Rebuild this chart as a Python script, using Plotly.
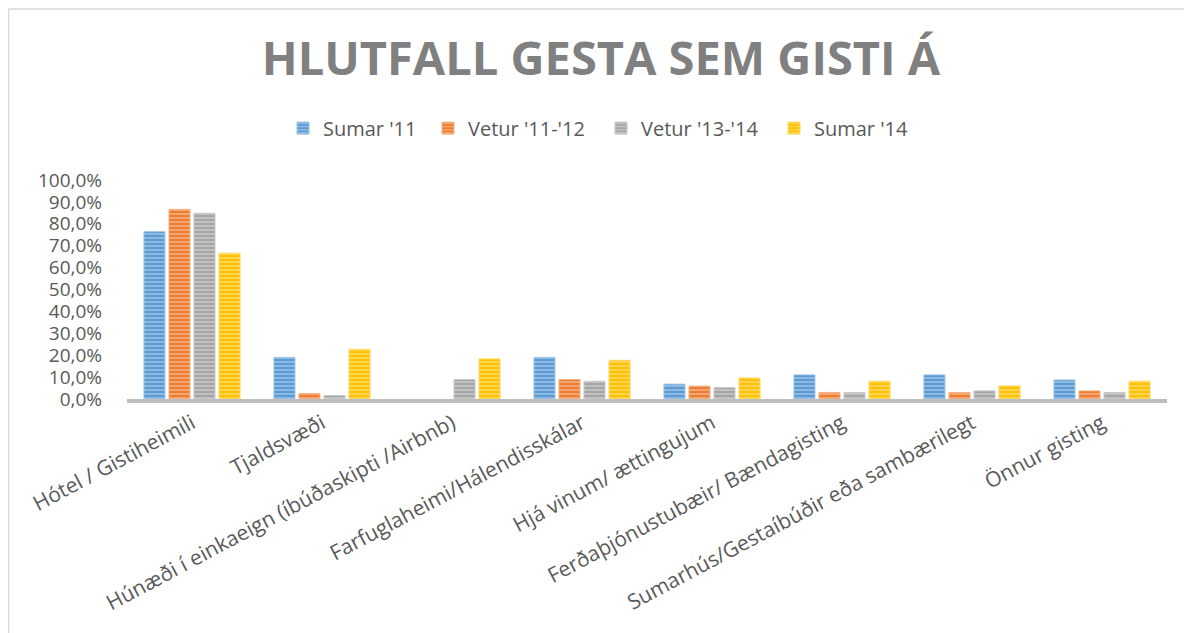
import plotly.graph_objects as go

categories = [
    "Hótel / Gistiheimili",
    "Tjaldsvæði",
    "Húnæði í einkaeign (íbúðaskipti /Airbnb)",
    "Farfuglaheimi/Hálendisskálar",
    "Hjá vinum/ ættingujum",
    "Ferðaþjónustubæir/ Bændagisting",
    "Sumarhús/Gestaíbúðir eða sambærilegt",
    "Önnur gisting",
]
series_names = ["Sumar '11", "Vetur '11-'12", "Vetur '13-'14", "Sumar '14"]
sumar_11 = [76.4, 19.0, 0.0, 19.0, 6.8, 11.0, 11.0, 8.7]
vetur_11_12 = [86.6, 2.5, 0.0, 8.9, 5.9, 3.0, 3.0, 3.7]
vetur_13_14 = [84.8, 1.6, 8.9, 8.1, 5.2, 3.0, 3.7, 3.0]
sumar_14 = [66.6, 22.7, 18.3, 17.7, 9.6, 8.1, 6.0, 8.1]
series_values = [sumar_11, vetur_11_12, vetur_13_14, sumar_14]
tick_values = [0, 10, 20, 30, 40, 50, 60, 70, 80, 90, 100]
tick_labels = ["0,0%", "10,0%", "20,0%", "30,0%", "40,0%", "50,0%",
               "60,0%", "70,0%", "80,0%", "90,0%", "100,0%"]

colors = ["#5b9bd5", "#ed7d31", "#a5a5a5", "#ffc000"]
edge_colors = ["#9cc3e6", "#f4b183", "#c9c9c9", "#ffd966"]
legend_left_px = [283, 428, 601, 774]

# page has an 8px body margin; figure coords = page coords - 8
OFF = 8
W, H = 1192 - OFF, 633 - OFF
L = 127 - OFF
T = 180 - OFF
R = W - (1167 - OFF)
B = H - (399.5 - OFF)

pw = W - L - R
ph = H - T - B


def px_x(p):
    return (p - OFF - L) / pw


def px_y(p):
    return (H - B - (p - OFF)) / ph


legend_ids = ["legend", "legend2", "legend3", "legend4"]

fig = go.Figure()
for name, vals, c, ec, lid in zip(series_names, series_values, colors, edge_colors, legend_ids):
    fig.add_trace(go.Bar(
        name=name, x=categories, y=vals, legend=lid,
        marker=dict(
            color=c,
            line=dict(color=ec, width=[0 if v == 0 else 1 for v in vals]),
            pattern=dict(shape="-", fillmode="overlay", fgcolor="white",
                         fgopacity=0.45, size=4, solidity=0.35),
        ),
    ))

border = "#d9d9d9"
shapes = [
    dict(type="line", xref="paper", yref="paper", x0=px_x(8.5), x1=px_x(1200),
         y0=px_y(8.5), y1=px_y(8.5), line=dict(color=border, width=1.5)),
    dict(type="line", xref="paper", yref="paper", x0=px_x(8.5), x1=px_x(8.5),
         y0=px_y(8.5), y1=px_y(640), line=dict(color=border, width=1.5)),
]

legend_layout = {}
for lid, lx in zip(legend_ids, legend_left_px):
    legend_layout[lid] = dict(
        orientation="h", x=px_x(lx), xanchor="left", y=px_y(128), yanchor="middle",
        font=dict(size=20, color="#595959"), itemwidth=30, bgcolor="rgba(0,0,0,0)",
    )

fig.update_layout(
    width=W, height=H,
    margin=dict(l=L, r=R, t=T, b=B, autoexpand=False),
    paper_bgcolor="white", plot_bgcolor="white",
    font=dict(family="Open Sans", color="#595959", size=18),
    title=dict(text="<b>HLUTFALL GESTA SEM GISTI Á</b>",
               x=px_x(601), xref="paper", xanchor="center",
               y=1 - (59 - OFF) / H, yanchor="middle",
               font=dict(family="Open Sans", size=47, color="#808080")),
    barmode="group", bargap=0.23, bargroupgap=0.16,
    showlegend=True,
    xaxis=dict(showline=True, linecolor="#bfbfbf", linewidth=4, ticks="",
               tickangle=-28, tickfont=dict(size=21, color="#595959"),
               showgrid=False, fixedrange=True),
    yaxis=dict(range=[0, 100], tickvals=tick_values, ticktext=tick_labels,
               showgrid=False, showline=False, zeroline=False, ticks="",
               tickfont=dict(size=19, color="#595959"), ticklabelstandoff=24,
               fixedrange=True),
    shapes=shapes,
    **legend_layout,
)

fig.write_html("out.html")
